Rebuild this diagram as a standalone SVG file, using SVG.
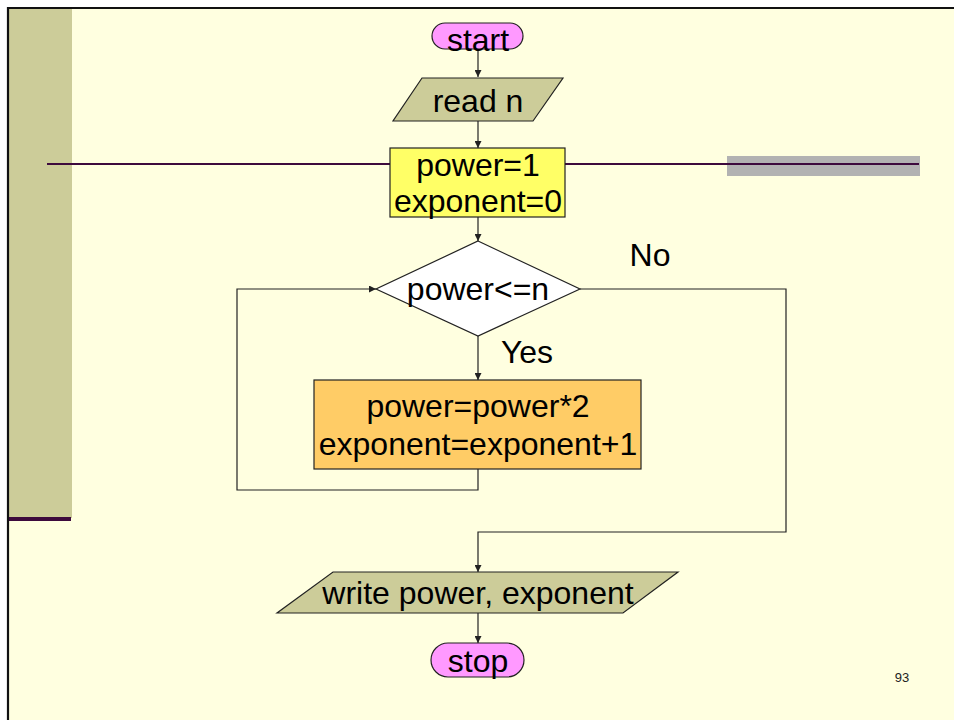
<svg xmlns="http://www.w3.org/2000/svg" width="954" height="720" viewBox="0 0 954 720">
<defs>
<style>
.t{font-family:"Liberation Sans",Arial,sans-serif;font-size:32px;fill:#000;text-anchor:middle}
.s{stroke:#222;stroke-width:1.2}
.c{fill:none;stroke:#222;stroke-width:1.2}
</style>
<marker id="ah" viewBox="0 0 10 10" refX="10" refY="5" markerWidth="7" markerHeight="7" markerUnits="userSpaceOnUse" orient="auto">
<path d="M0,0 L10,5 L0,10 z" fill="#222"/>
</marker>
</defs>
<rect x="0" y="0" width="954" height="720" fill="#fff"/>
<rect x="8" y="8" width="946" height="712" fill="#FFFFE0"/>
<rect x="9" y="9" width="63" height="509" fill="#CCCC99"/>
<line x1="9" y1="519" x2="71" y2="519" stroke="#3d0a3d" stroke-width="4"/>
<line x1="7" y1="8" x2="954" y2="8" stroke="#111" stroke-width="2.2"/>
<line x1="8" y1="7" x2="8" y2="720" stroke="#111" stroke-width="2.2"/>
<rect x="727" y="156" width="193" height="20" fill="#B2B2B2"/>
<line x1="47" y1="164" x2="919" y2="164" stroke="#3d0a3d" stroke-width="2"/>
<g id="connectors">
<line class="c" x1="478" y1="49" x2="478" y2="77" marker-end="url(#ah)"/>
<line class="c" x1="478" y1="121" x2="478" y2="148" marker-end="url(#ah)"/>
<line class="c" x1="478" y1="217" x2="478" y2="241" marker-end="url(#ah)"/>
<line class="c" x1="478" y1="336" x2="478" y2="380" marker-end="url(#ah)"/>
<polyline class="c" points="478,469 478,490 237,490 237,289 376,289" marker-end="url(#ah)"/>
<polyline class="c" points="580,289 786,289 786,532 478,532 478,572" marker-end="url(#ah)"/>
<line class="c" x1="478" y1="613" x2="478" y2="643" marker-end="url(#ah)"/>
</g>
<g id="start">
<rect class="s" x="432" y="23" width="91" height="26" rx="13" fill="#FF99FF"/>
<text class="t" x="478" y="51">start</text>
</g>
<g id="read">
<polygon class="s" points="422,78 563,78 533,121 393,121" fill="#CCCC99"/>
<text class="t" x="478" y="112">read n</text>
</g>
<g id="init">
<rect class="s" x="390" y="148" width="175" height="69" fill="#FFFF66"/>
<text class="t" x="478" y="176">power=1</text>
<text class="t" x="478" y="212">exponent=0</text>
</g>
<g id="cond">
<polygon class="s" points="478,241 580,289 478,336 376,289" fill="#fff"/>
<text class="t" x="478" y="300">power&lt;=n</text>
</g>
<g id="labels">
<text class="t" x="650" y="266">No</text>
<text class="t" x="527" y="363">Yes</text>
</g>
<g id="body">
<rect class="s" x="314" y="380" width="327" height="89" fill="#FFCC66"/>
<text class="t" x="478" y="417">power=power*2</text>
<text class="t" x="478" y="455">exponent=exponent+1</text>
</g>
<g id="write">
<polygon class="s" points="333,572 678,572 623,613 277,613" fill="#CCCC99"/>
<text class="t" x="478" y="604">write power, exponent</text>
</g>
<g id="stop">
<rect class="s" x="431" y="643" width="93" height="34" rx="17" fill="#FF99FF"/>
<text class="t" x="478" y="672">stop</text>
</g>
<text x="902" y="682" font-family="'Liberation Sans',Arial,sans-serif" font-size="13" fill="#222" text-anchor="middle">93</text>
</svg>
